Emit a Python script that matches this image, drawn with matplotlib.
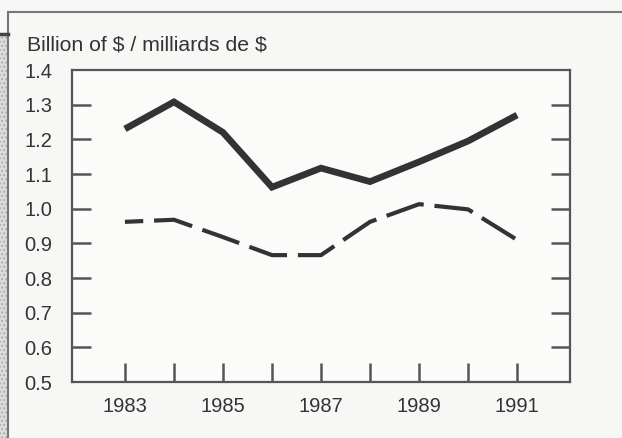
import matplotlib
matplotlib.use("Agg")
import matplotlib.pyplot as plt
from matplotlib.patches import Rectangle
from matplotlib.lines import Line2D

years = [1983, 1984, 1985, 1986, 1987, 1988, 1989, 1990, 1991]
solid_series = [1.23, 1.308, 1.22, 1.062, 1.117, 1.078, 1.135, 1.195, 1.27]
dashed_series = [0.962, 0.968, 0.918, 0.866, 0.866, 0.962, 1.013, 0.998, 0.91]
y_ticks = [0.5, 0.6, 0.7, 0.8, 0.9, 1.0, 1.1, 1.2, 1.3, 1.4]
x_label_years = [1983, 1985, 1987, 1989, 1991]
title_text = "Billion of \\$ / milliards de \\$"

plt.rcParams['font.family'] = ['Liberation Sans', 'DejaVu Sans']

W, H = 622, 438
fig = plt.figure(figsize=(W / 100, H / 100), dpi=100)
fig.patch.set_facecolor('#f7f7f5')

# outer frame decorations
fig.add_artist(Rectangle((0, 0), 7 / W, 1 - 36 / H, transform=fig.transFigure,
                         facecolor='#dcdcdc', edgecolor='#b0b0b0', hatch='....', lw=0))
fig.add_artist(Line2D([8 / W, 1.0], [1 - 12 / H, 1 - 12 / H], transform=fig.transFigure,
                      color='#777777', lw=1.5))
fig.add_artist(Line2D([8 / W, 8 / W], [0, 1 - 12 / H], transform=fig.transFigure,
                      color='#777777', lw=1.5))
fig.add_artist(Line2D([0, 8 / W], [1 - 34 / H, 1 - 34 / H], transform=fig.transFigure,
                      color='#444444', lw=2.5))

ax = fig.add_axes([72 / W, 1 - 382 / H, (570 - 72) / W, (382 - 70) / H])
ax.set_facecolor('#fbfbfa')

color = '#333333'
ax.plot(years, solid_series, color=color, lw=4.8, solid_joinstyle='miter',
        solid_capstyle='butt')
ax.plot(years, dashed_series, color=color, lw=3.0, linestyle=(5, (9.4, 2.6)),
        dash_capstyle='butt')

ax.set_xlim(1981.92, 1992.08)
ax.set_ylim(0.5, 1.4)

for s in ax.spines.values():
    s.set_color('#555555')
    s.set_linewidth(1.6)

ax.set_xticks(years)
ax.set_xticklabels([str(y) if y in x_label_years else '' for y in years])
ax.set_yticks(y_ticks)
ax.set_yticklabels([f"{v:.1f}" for v in y_ticks])
ax.tick_params(axis='x', direction='in', length=13.5, width=1.8, color='#555555',
               labelsize=14.5, labelcolor='#333333', pad=11, top=False)
ax.tick_params(axis='y', direction='in', length=13.5, width=1.8, color='#555555',
               labelsize=14.5, labelcolor='#333333', right=True, pad=14)
# hide corner ticks
for t in (ax.yaxis.get_major_ticks()[0], ax.yaxis.get_major_ticks()[-1]):
    t.tick1line.set_visible(False)
    t.tick2line.set_visible(False)

fig.text(27 / W, 1 - 51 / H, title_text, fontsize=15.3, color='#333333',
         ha='left', va='baseline')

fig.savefig('out.png', dpi=100, facecolor=fig.get_facecolor())
